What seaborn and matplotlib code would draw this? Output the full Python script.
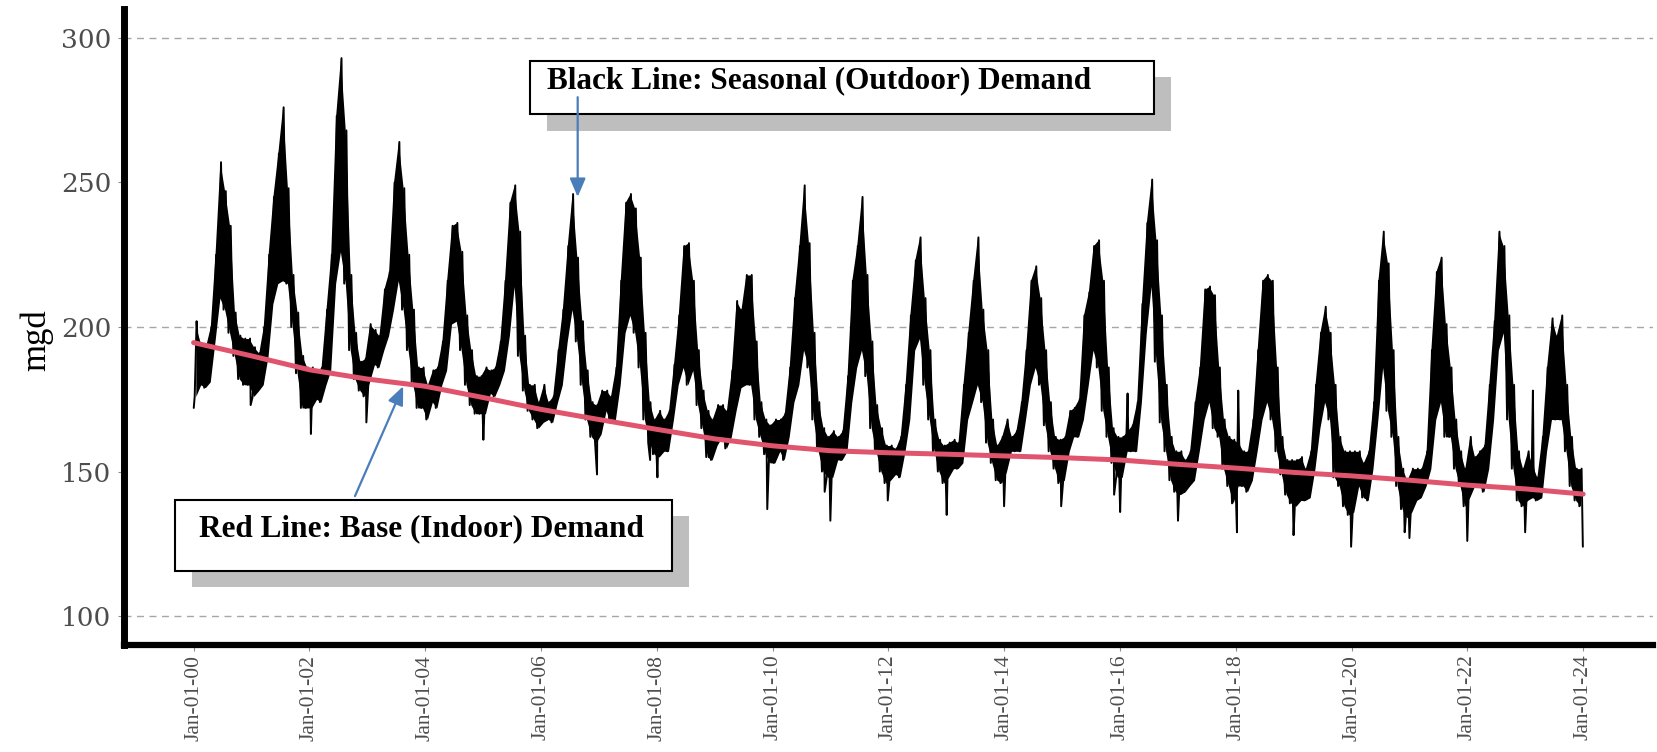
import pandas as pd
import seaborn as sns
import matplotlib.pyplot as plt
import matplotlib.dates as mdates
from matplotlib.patches import Rectangle

W, H = 1657, 752

# monthly envelope of the daily demand trace (mgd), one row per year, Jan..Dec
monthly_high = [
    200, 194, 193, 200, 225, 257, 247, 235, 205, 197, 196, 196,  # 2000
    193, 191, 200, 225, 245, 260, 276, 248, 218, 205, 190, 186,  # 2001
    186, 185, 186, 206, 225, 273, 293, 268, 218, 198, 188, 189,  # 2002
    201, 199, 197, 213, 219, 250, 264, 248, 225, 206, 186, 186,  # 2003
    180, 185, 186, 195, 216, 235, 236, 226, 204, 192, 183, 183,  # 2004
    186, 185, 186, 195, 216, 243, 249, 233, 197, 180, 180, 174,  # 2005
    180, 174, 176, 192, 206, 228, 246, 224, 202, 185, 174, 173,  # 2006
    178, 178, 176, 186, 216, 243, 246, 241, 224, 198, 174, 168,  # 2007
    171, 168, 171, 187, 204, 228, 229, 216, 192, 178, 171, 168,  # 2008
    173, 173, 171, 185, 209, 206, 218, 218, 195, 174, 168, 166,  # 2009
    168, 168, 170, 186, 210, 228, 249, 229, 198, 174, 165, 162,  # 2010
    164, 162, 164, 183, 216, 228, 245, 218, 195, 173, 165, 159,  # 2011
    159, 158, 162, 180, 204, 223, 231, 210, 192, 168, 161, 159,  # 2012
    160, 161, 160, 180, 198, 216, 231, 206, 192, 168, 159, 162,  # 2013
    168, 162, 164, 174, 192, 216, 221, 210, 192, 174, 162, 161,  # 2014
    162, 171, 172, 175, 204, 212, 228, 230, 216, 186, 165, 162,  # 2015
    162, 164, 166, 174, 208, 236, 251, 230, 204, 180, 162, 157,  # 2016
    157, 154, 157, 174, 186, 213, 214, 211, 186, 168, 162, 161,  # 2017
    160, 157, 157, 168, 192, 216, 218, 216, 186, 162, 154, 154,  # 2018
    154, 155, 151, 157, 180, 198, 207, 198, 180, 162, 157, 157,  # 2019
    157, 157, 153, 157, 174, 216, 233, 222, 192, 162, 151, 147,  # 2020
    151, 151, 151, 157, 192, 219, 224, 201, 186, 168, 157, 151,  # 2021
    162, 155, 157, 159, 180, 202, 233, 228, 204, 180, 157, 151,  # 2022
    157, 152, 148, 162, 186, 203, 197, 204, 180, 162, 151, 151,  # 2023
]
monthly_low = [
    176, 180, 179, 181, 195, 210, 206, 198, 190, 182, 180, 180,  # 2000
    176, 178, 180, 190, 208, 215, 216, 215, 200, 184, 172, 172,  # 2001
    172, 175, 174, 180, 185, 215, 226, 215, 192, 182, 178, 176,  # 2002
    181, 187, 186, 192, 197, 206, 216, 206, 192, 180, 172, 172,  # 2003
    168, 174, 172, 180, 185, 201, 202, 192, 180, 173, 170, 170,  # 2004
    170, 177, 176, 180, 185, 197, 214, 190, 178, 171, 168, 165,  # 2005
    167, 168, 167, 174, 180, 195, 206, 195, 180, 168, 162, 160,  # 2006
    163, 171, 167, 168, 180, 198, 204, 198, 186, 168, 160, 156,  # 2007
    155, 157, 157, 168, 180, 186, 180, 185, 173, 165, 155, 154,  # 2008
    159, 162, 158, 162, 171, 179, 180, 180, 168, 162, 156, 153,  # 2009
    153, 157, 154, 162, 174, 180, 192, 186, 168, 157, 150, 148,  # 2010
    148, 154, 154, 157, 174, 186, 192, 183, 165, 157, 150, 146,  # 2011
    147, 149, 148, 157, 168, 192, 196, 180, 168, 157, 150, 146,  # 2012
    148, 151, 151, 153, 168, 174, 180, 174, 160, 153, 147, 146,  # 2013
    150, 157, 157, 157, 168, 180, 186, 180, 166, 157, 151, 146,  # 2014
    147, 157, 162, 162, 168, 180, 192, 186, 171, 162, 153, 148,  # 2015
    148, 157, 157, 157, 174, 198, 214, 188, 167, 157, 147, 143,  # 2016
    142, 143, 145, 147, 157, 168, 174, 165, 162, 151, 145, 139,  # 2017
    145, 145, 143, 147, 157, 168, 174, 168, 157, 149, 142, 139,  # 2018
    138, 140, 140, 141, 151, 165, 174, 168, 148, 145, 138, 135,  # 2019
    136, 145, 141, 140, 151, 168, 186, 171, 162, 145, 137, 134,  # 2020
    136, 140, 141, 145, 151, 168, 174, 162, 162, 151, 145, 138,  # 2021
    141, 145, 145, 143, 151, 168, 192, 198, 168, 151, 140, 138,  # 2022
    140, 141, 140, 141, 157, 168, 168, 168, 157, 145, 140, 138,  # 2023
]

# single-day spikes that stick out of the monthly band
spike_dates = ["2000-01-02", "2000-01-20", "2000-12-26", "2002-01-10", "2002-12-26",
               "2005-01-02", "2006-12-20", "2007-11-20", "2008-01-05", "2009-11-28",
               "2010-11-25", "2010-12-31", "2011-12-28", "2013-01-03", "2013-12-31",
               "2014-12-26", "2015-11-25", "2016-01-02", "2016-02-18", "2017-01-01",
               "2018-01-08", "2018-01-16", "2018-12-31", "2019-12-29", "2020-12-01",
               "2020-12-31", "2021-12-31", "2022-12-31", "2023-02-18", "2023-12-30"]
spike_mgd = [172, 202, 173, 163, 167,
             161, 149, 154, 148, 137,
             143, 133, 140, 135, 138,
             138, 142, 136, 177, 133,
             129, 178, 128, 124, 129,
             127, 126, 129, 178, 124]

# base (indoor) demand trend, Jan 1 of each year
base_years = list(range(2000, 2025))
base_mgd = [194.6, 190.0, 185.2, 182.0, 179.5, 175.6, 171.5, 168.0, 164.6, 161.3,
            158.9, 157.2, 156.5, 156.0, 155.4, 154.8, 154.0, 152.5, 151.2, 149.7,
            148.5, 147.0, 145.3, 144.0, 142.2]

tick_years = list(range(2000, 2025, 2))
y_ticks = [100, 150, 200, 250, 300]
grid_mgd = [100, 200, 300]


def build_demand_frame():
    """Daily-looking trace: band low/high each month plus the spike days."""
    rows = []
    for i, (lo, hi) in enumerate(zip(monthly_low, monthly_high)):
        year, month = 2000 + i // 12, i % 12 + 1
        rows.append((pd.Timestamp(year, month, 8), lo))
        rows.append((pd.Timestamp(year, month, 22), hi))
    rows += [(pd.Timestamp(d), v) for d, v in zip(spike_dates, spike_mgd)]
    return pd.DataFrame(rows, columns=["date", "mgd"]).sort_values("date")


def px_rect(x0, y0, x1, y1, **kw):
    # rectangle given in figure pixels measured from the top-left corner
    return Rectangle((x0 / W, 1 - y1 / H), (x1 - x0) / W, (y1 - y0) / H,
                     transform=fig.transFigure, clip_on=False, **kw)


demand = build_demand_frame()
band = pd.DataFrame({
    "date": [pd.Timestamp(2000 + i // 12, i % 12 + 1, 15) for i in range(len(monthly_low))],
    "low": monthly_low,
    "high": monthly_high,
})
base = pd.DataFrame({"date": [pd.Timestamp(y, 1, 1) for y in base_years], "mgd": base_mgd})

sns.set_theme(style="white")
plt.rcParams["font.family"] = ["Liberation Serif", "DejaVu Serif"]

fig = plt.figure(figsize=(W / 100, H / 100), dpi=100)
ax = fig.add_axes([124 / W, 1 - 645 / H, 1528.6 / W, 636 / H])

for g in grid_mgd:
    ax.axhline(g, color="#a6a6a6", lw=1.0, ls=(0, (5, 4)), zorder=0)

# dense daily band, then the day-to-day trace on top of it
ax.fill_between(band["date"], band["low"], band["high"], color="black", lw=0, zorder=1)
sns.lineplot(data=demand, x="date", y="mgd", color="black", lw=1.4,
             estimator=None, ax=ax, zorder=2)
sns.lineplot(data=base, x="date", y="mgd", color="#e0546e", lw=3.6,
             estimator=None, ax=ax, zorder=3)

ax.set_xlim(pd.Timestamp("1998-10-19"), pd.Timestamp("2025-03-14"))
ax.set_ylim(90, 310)
ax.set_xticks([pd.Timestamp(y, 1, 1) for y in tick_years])
ax.xaxis.set_major_formatter(mdates.DateFormatter("%b-%d-%y"))
ax.set_yticks(y_ticks)

ax.set_xlabel("")
ax.set_ylabel("mgd", fontsize=25, color="black")
ax.yaxis.set_label_coords(-0.046, 0.48)

for side in ["top", "right"]:
    ax.spines[side].set_visible(False)
ax.spines["left"].set_linewidth(5)
ax.spines["left"].set_color("black")
ax.spines["bottom"].set_linewidth(4.5)
ax.spines["bottom"].set_color("black")

ax.tick_params(axis="x", labelsize=15.5, labelrotation=90, length=4, width=0.8,
               colors="#8c8c8c", labelcolor="#4d4d4d", pad=3, bottom=True)
ax.tick_params(axis="y", labelsize=19, length=4, width=0.8,
               colors="#8c8c8c", labelcolor="#4d4d4d", pad=5, left=True)
for lbl in ax.get_yticklabels():
    lbl.set_fontfamily("DejaVu Serif")

# annotation boxes with drop shadows
ax.add_patch(px_rect(547, 77, 1171, 131, facecolor="#bebebe", edgecolor="none", zorder=4))
ax.add_patch(px_rect(530, 61, 1154, 114, facecolor="white", edgecolor="black", lw=1.5, zorder=5))
ax.add_patch(px_rect(192, 516, 689, 587, facecolor="#bebebe", edgecolor="none", zorder=4))
ax.add_patch(px_rect(175, 500, 672, 571, facecolor="white", edgecolor="black", lw=1.5, zorder=5))

ax.text(547 / W, 1 - 81 / H, "Black Line: Seasonal (Outdoor) Demand", transform=fig.transFigure,
        fontsize=22.5, fontweight="bold", color="black", ha="left", va="center", zorder=7)
ax.text(199 / W, 1 - 529 / H, "Red Line: Base (Indoor) Demand", transform=fig.transFigure,
        fontsize=22.5, fontweight="bold", color="black", ha="left", va="center", zorder=7)

arrow_style = dict(arrowstyle="-|>,head_length=0.7,head_width=0.3", color="#4a7ebb",
                   lw=1.6, mutation_scale=16, shrinkA=0, shrinkB=0)
ax.annotate("", xy=(mdates.date2num(pd.Timestamp("2006-08-20")), 245),
            xytext=(mdates.date2num(pd.Timestamp("2006-08-20")), 279.5),
            arrowprops=arrow_style, zorder=6, annotation_clip=False)
ax.annotate("", xy=(mdates.date2num(pd.Timestamp("2003-08-15")), 179.5),
            xytext=(mdates.date2num(pd.Timestamp("2002-10-15")), 141.5),
            arrowprops=arrow_style, zorder=6, annotation_clip=False)

fig.savefig("out.png", dpi=100, facecolor="white")
